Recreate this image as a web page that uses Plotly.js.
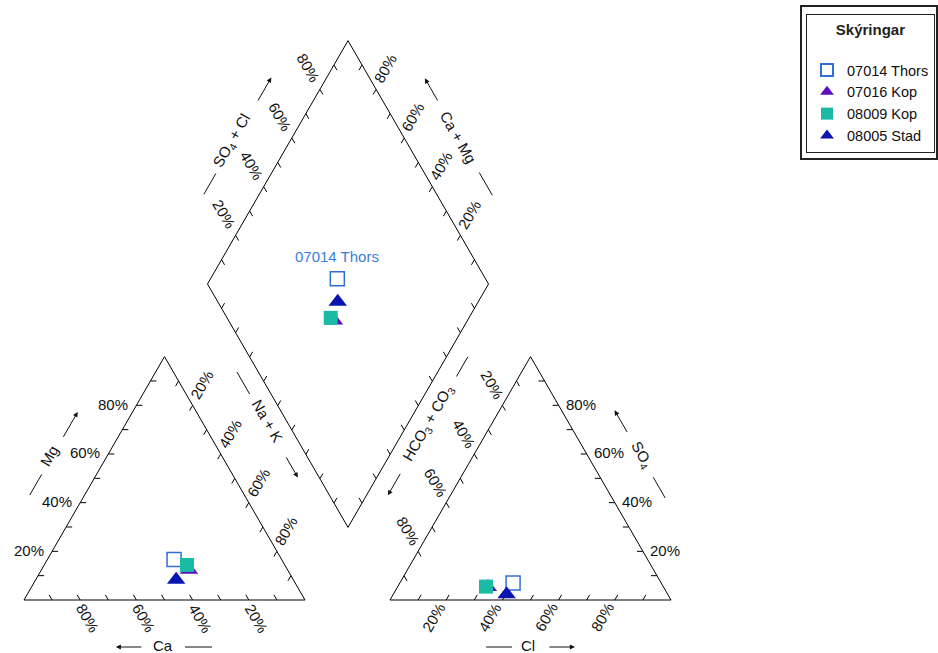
<!DOCTYPE html>
<html><head><meta charset="utf-8">
<script src="https://cdn.plot.ly/plotly-3.0.1.min.js"></script>
<style>html,body{margin:0;padding:0;background:#fff}#chart{width:938px;height:653px}</style>
</head><body><div id="chart"></div>
<script>
// ---- data (percent of meq) ----
const samples = ['07014 Thors', '07016 Kop', '08009 Kop', '08005 Stad'];
const ca   = [38.3, 35.1, 34.8, 41.7];
const mg   = [16.6, 12.4, 14.4, 8.3];
const nak  = [45.1, 52.5, 50.8, 50.0];
const hco3 = [52.7, 62.5, 63.1, 57.3];
const so4  = [7.0, 5.3, 5.5, 2.4];
const cl   = [40.3, 32.2, 31.4, 40.3];
const tickValues = [20, 40, 60, 80];
const tickLabels = ['20%', '40%', '60%', '80%'];
const labelledSample = '07014 Thors';

// ---- styles ----
const FONT = 'Liberation Sans, Arial, sans-serif';
const FS = 15;
const symbols = ['square', 'triangle-up', 'square', 'triangle-up'];
const sizes = [14, 16, 14, 16];
const fills = ['#ffffff', '#5a10c0', '#19bba5', '#0a14b0'];
const edges = ['#2f6fd8', '#5a10c0', '#19bba5', '#0a14b0'];

// ---- geometry ----
const L = 281, H = L * Math.sqrt(3) / 2;
const catL = [24, 600], catR = [24 + L, 600], catT = [24 + L / 2, 600 - H];
const anL = [390, 600], anR = [390 + L, 600], anT = [390 + L / 2, 600 - H];
const DC = [348, 284];
const dB = [DC[0], DC[1] + H], dL = [DC[0] - L / 2, DC[1]], dR = [DC[0] + L / 2, DC[1]], dT = [DC[0], DC[1] - H];

function lerp(P0, P1, t) { return [P0[0] + (P1[0] - P0[0]) * t, P0[1] + (P1[1] - P0[1]) * t]; }
function catXY(c, m, n) { return [catL[0] + L * (n + m / 2) / 100, catL[1] - H * m / 100]; }
function anXY(h, s, c) { return [anL[0] + L * (c + s / 2) / 100, anL[1] - H * s / 100]; }
function diaXY(camg, so4cl) {
  return [dB[0] + camg / 100 * (dL[0] - dB[0]) + so4cl / 100 * (dR[0] - dB[0]),
          dB[1] + camg / 100 * (dL[1] - dB[1]) + so4cl / 100 * (dR[1] - dB[1])];
}

const S3 = Math.sqrt(3) / 2;
// edges: from P0 to P1 (direction of increasing value), tick direction, label settings
const axesDef = [
  {P0: catR, P1: catL, dir: [-0.5, -S3], lab: {dx: 8, dy: 18, ang: 60, anchor: 'center'}},
  {P0: catL, P1: catT, dir: [1, 0], lab: {dx: -6, dy: -1, ang: 0, anchor: 'right'}},
  {P0: catT, P1: catR, dir: [-0.5, S3], lab: {dx: 9.5, dy: -20.5, ang: -60, anchor: 'center'}},
  {P0: anL, P1: anR, dir: [0.5, -S3], lab: {dx: -13, dy: 17, ang: -60, anchor: 'center'}},
  {P0: anT, P1: anL, dir: [0.5, S3], lab: {dx: -10.5, dy: -20.5, ang: 60, anchor: 'center'}},
  {P0: anR, P1: anT, dir: [-1, 0], lab: {dx: 5, dy: -1, ang: 0, anchor: 'left'}},
  {P0: dL, P1: dT, dir: [0.5, S3], lab: {dx: -12, dy: -21.5, ang: 60, anchor: 'center'}},
  {P0: dR, P1: dT, dir: [-0.5, S3], lab: {dx: 9, dy: -21, ang: -60, anchor: 'center'}},
  {P0: dB, P1: dL, dir: [0.5, -S3], lab: null},
  {P0: dB, P1: dR, dir: [-0.5, -S3], lab: null}
];

// axis titles: reference line, outward normal, distance, text position, dash range, arrow range
const titleDef = [
  {text: 'Ca', P0: catR, P1: catL, n: [0, 1], dt: 45, dl: 47, t: 0.505, dash: [0.331, 0.427], arr: [0.577, 0.673], ang: 0},
  {text: 'Mg', P0: catL, P1: catT, n: [-S3, -0.5], dt: 50, dl: 47.5, t: 0.49, dash: [0.334, 0.419], arr: [0.567, 0.675], ang: -60},
  {text: 'Na + K', P0: dL, P1: dB, n: [-S3, 0.5], dt: 17, dl: 18.5, t: 0.528, dash: [0.324, 0.414], arr: [0.668, 0.757], ang: 60},
  {text: 'HCO<sub>3</sub> + CO<sub>3</sub>', P0: dR, P1: dB, n: [S3, 0.5], dt: 17.5, dl: 18.5, t: 0.537, dash: [0.262, 0.342], arr: [0.736, 0.83], ang: -60},
  {text: 'SO<sub>4</sub>', P0: anR, P1: anT, n: [S3, -0.5], dt: 47.4, dl: 46, t: 0.498, dash: [0.325, 0.41], arr: [0.59, 0.685], ang: 60},
  {text: 'Cl', P0: anL, P1: anR, n: [0, 1], dt: 45, dl: 47, t: 0.49, dash: [0.342, 0.434], arr: [0.562, 0.658], ang: 0},
  {text: 'SO<sub>4</sub> + Cl', P0: dL, P1: dT, n: [-S3, -0.5], dt: 50.8, dl: 48, t: 0.487, dash: [0.27, 0.355], arr: [0.649, 0.75], ang: -60},
  {text: 'Ca + Mg', P0: dR, P1: dT, n: [S3, -0.5], dt: 47.5, dl: 47.7, t: 0.506, dash: [0.267, 0.36], arr: [0.65, 0.747], ang: 60}
];

// ---- frames ----
const fx = [], fy = [];
function poly(pts) { pts.forEach(p => { fx.push(p[0]); fy.push(p[1]); }); fx.push(null); fy.push(null); }
poly([catL, catR, catT, catL]);
poly([anL, anR, anT, anL]);
poly([dB, dL, dT, dR, dB]);

// ---- ticks ----
const tx = [], ty = [];
const TL = 6;
axesDef.forEach(a => {
  for (let k = 1; k <= 9; k++) {
    const p = lerp(a.P0, a.P1, k / 10);
    tx.push(p[0], p[0] + a.dir[0] * TL, null);
    ty.push(p[1], p[1] + a.dir[1] * TL, null);
  }
});

const annotations = [];
const shapes = [];
axesDef.forEach(a => {
  if (!a.lab) return;
  tickValues.forEach((v, i) => {
    const p = lerp(a.P0, a.P1, v / 100);
    annotations.push({
      x: p[0] + a.lab.dx, y: p[1] + a.lab.dy, xref: 'x', yref: 'y',
      text: tickLabels[i], showarrow: false, textangle: a.lab.ang,
      xanchor: a.lab.anchor, yanchor: 'middle',
      font: {family: FONT, size: FS, color: '#111'}
    });
  });
});

function off(P0, P1, t, n, d) { const p = lerp(P0, P1, t); return [p[0] + n[0] * d, p[1] + n[1] * d]; }
titleDef.forEach(td => {
  const c = off(td.P0, td.P1, td.t, td.n, td.dt);
  annotations.push({x: c[0], y: c[1], xref: 'x', yref: 'y', text: td.text, showarrow: false,
    textangle: td.ang, xanchor: 'center', yanchor: 'middle', font: {family: FONT, size: FS, color: '#111'}});
  const d0 = off(td.P0, td.P1, td.dash[0], td.n, td.dl), d1 = off(td.P0, td.P1, td.dash[1], td.n, td.dl);
  shapes.push({type: 'line', xref: 'x', yref: 'y', x0: d0[0], y0: d0[1], x1: d1[0], y1: d1[1], line: {color: '#111', width: 1}});
  const a0 = off(td.P0, td.P1, td.arr[0], td.n, td.dl), a1 = off(td.P0, td.P1, td.arr[1], td.n, td.dl);
  annotations.push({x: a1[0], y: a1[1], ax: a0[0], ay: a0[1], xref: 'x', yref: 'y', axref: 'x', ayref: 'y',
    text: '', showarrow: true, arrowhead: 2, arrowsize: 1, arrowwidth: 1, arrowcolor: '#111', standoff: 0, startstandoff: 0});
});

// ---- traces ----
const traces = [
  {x: fx, y: fy, mode: 'lines', line: {color: '#000', width: 1}, hoverinfo: 'skip', showlegend: false},
  {x: tx, y: ty, mode: 'lines', line: {color: '#000', width: 1}, hoverinfo: 'skip', showlegend: false}
];
samples.forEach((s, i) => {
  const p1 = catXY(ca[i], mg[i], nak[i]);
  const p2 = anXY(hco3[i], so4[i], cl[i]);
  const p3 = diaXY(ca[i] + mg[i], so4[i] + cl[i]);
  traces.push({
    x: [p1[0], p2[0], p3[0]], y: [p1[1], p2[1], p3[1]], name: s, mode: 'markers', type: 'scatter',
    marker: {symbol: symbols[i], size: sizes[i], color: fills[i], line: {color: edges[i], width: i === 0 ? 1.5 : 0}}
  });
  if (s === labelledSample) {
    annotations.push({x: p3[0], y: p3[1], xref: 'x', yref: 'y', yshift: 22, text: s, showarrow: false,
      font: {family: FONT, size: FS, color: '#3b7ddd'}});
  }
});

// outer frame of legend (double border)
shapes.push({type: 'rect', xref: 'x', yref: 'y', x0: 801, y0: 6, x1: 937, y1: 159, line: {color: '#222', width: 2}});

const layout = {
  width: 938, height: 653,
  margin: {l: 0, r: 0, t: 0, b: 0},
  paper_bgcolor: '#fff', plot_bgcolor: '#fff',
  xaxis: {range: [0, 938], visible: false, fixedrange: true},
  yaxis: {range: [653, 0], visible: false, fixedrange: true},
  showlegend: true,
  legend: {
    x: 806 / 938, y: 1 - 14 / 653, xanchor: 'left', yanchor: 'top',
    bgcolor: '#fff', bordercolor: '#222', borderwidth: 1,
    font: {family: FONT, size: 14.5, color: '#111'},
    title: {text: '<b>Skýringar</b><br>&nbsp;', side: 'top center', font: {family: FONT, size: FS, color: '#222'}},
    itemsizing: 'constant'
  },
  annotations: annotations,
  shapes: shapes,
  hovermode: false
};

Plotly.newPlot('chart', traces, layout, {displayModeBar: false, staticPlot: true});
</script>
</body></html>
